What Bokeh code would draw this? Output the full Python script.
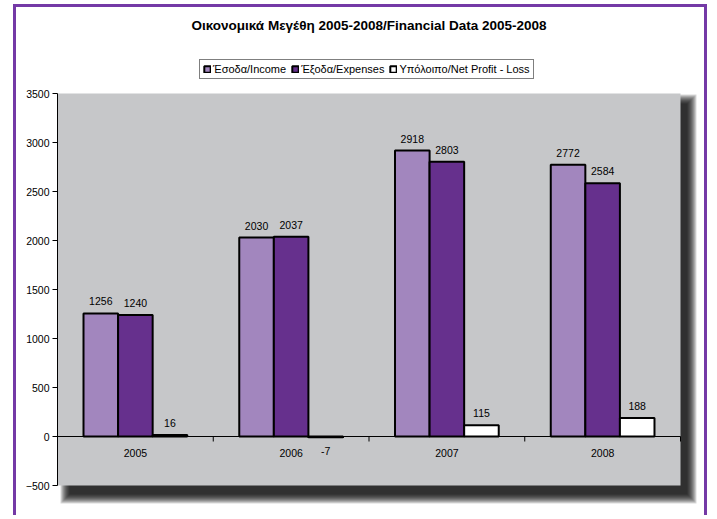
from bokeh.plotting import figure
from bokeh.models import ColumnDataSource, Range1d, FixedTicker, Label, Legend, LegendItem
from bokeh.core.properties import value
from bokeh.embed import file_html
from bokeh.resources import INLINE

# ---------------- data ----------------
years = ["2005", "2006", "2007", "2008"]
income = [1256, 2030, 2918, 2772]
expenses = [1240, 2037, 2803, 2584]
net = [16, -7, 115, 188]
series_names = ["Έσοδα/Income", "Έξοδα/Expenses", "Υπόλοιπο/Net Profit - Loss"]
y_ticks = [-500, 0, 500, 1000, 1500, 2000, 2500, 3000, 3500]
title_text = "Οικονομικά Μεγέθη 2005-2008/Financial Data 2005-2008"

# ---------------- style / layout ----------------
FONT = "Liberation Sans"
FS = "10.5px"
W, H = 694, 511
LEFT, RIGHT_B, TOP_PX = 41, 10, 86          # frame borders (px)
PLOT_W_PX = 623                             # grey area width
PLOT_H_PX = 392                             # grey area height
Y_MIN, Y_MAX = y_ticks[0], y_ticks[-1]
n = len(years)
PXX = PLOT_W_PX / n                         # px per category
PXY = PLOT_H_PX / (Y_MAX - Y_MIN)           # px per value unit
frame_w = W - LEFT - RIGHT_B
x_end = frame_w / PXX
y_end = Y_MAX + TOP_PX / PXY
y_start = y_end - H / PXY

GREY = "#C6C7C9"
C_INC, C_EXP, C_NET = "#A286BE", "#66308D", "#FFFFFF"
BORDER = "#7439A6"
BAR_W = 0.222

p = figure(width=W, height=H, x_range=Range1d(0, x_end), y_range=Range1d(y_start, y_end),
           output_backend="svg", toolbar_location=None, x_axis_location=None,
           min_border_left=LEFT, min_border_right=RIGHT_B, min_border_top=0, min_border_bottom=0)
p.styles = {"border": "3px solid " + BORDER, "border-bottom": "none",
            "margin-left": "13px", "margin-top": "4px"}
p.grid.visible = False
p.outline_line_color = None
p.background_fill_color = "white"
p.border_fill_color = "white"

# shadow
for k in range(10):
    p.quad(left=[12 / PXX - k / PXX], right=[n + 7 / PXX + k / PXX],
           top=[Y_MAX - 10 / PXY + k / PXY], bottom=[Y_MIN - 9 / PXY - k / PXY],
           fill_color="black", fill_alpha=0.15, line_color=None)
# grey plot area
p.quad(left=[0], right=[n], top=[Y_MAX], bottom=[Y_MIN], fill_color=GREY, line_color=None)

# bars
offsets = [-BAR_W, 0, BAR_W]
colors = [C_INC, C_EXP, C_NET]
renderers = []
for vals, off, col in zip([income, expenses, net], offsets, colors):
    src = ColumnDataSource(dict(x=[i + 0.5 + off for i in range(n)], top=vals))
    r = p.vbar(x="x", top="top", bottom=0, width=BAR_W, source=src,
               fill_color=col, line_color="black", line_width=2)
    renderers.append(r)

# zero line & category ticks
p.segment(x0=[0], x1=[n], y0=[0], y1=[0], line_color="black", line_width=1)
p.segment(x0=list(range(1, n + 1)), x1=list(range(1, n + 1)), y0=[0] * n,
          y1=[-5 / PXY] * n, line_color="black", line_width=1)

# category labels
p.text(x=[i + 0.5 for i in range(n)], y=[0] * n, text=years, y_offset=16,
       text_align="center", text_baseline="middle", text_font=value(FONT),
       text_font_size=FS, text_color="black")

# value labels
lx, ly, lt, lo = [], [], [], []
for vals, off in zip([income, expenses, net], offsets):
    for i, v in enumerate(vals):
        lx.append(i + 0.5 + off)
        ly.append(v)
        lt.append(str(v))
        lo.append(-12 if v >= 0 else 14)
p.text(x="x", y="y", text="t", y_offset="o",
       source=ColumnDataSource(dict(x=lx, y=ly, t=lt, o=lo)),
       text_align="center", text_baseline="middle", text_font=value(FONT),
       text_font_size=FS, text_color="black")

# y axis
ax = p.yaxis[0]
ax.ticker = FixedTicker(ticks=y_ticks)
ax.bounds = (Y_MIN, Y_MAX)
ax.major_tick_out = 5
ax.major_tick_in = 0
ax.minor_tick_out = 0
ax.minor_tick_in = 0
ax.axis_line_color = "black"
ax.major_tick_line_color = "black"
ax.major_label_text_font = FONT
ax.major_label_text_font_size = FS
ax.major_label_text_color = "black"
ax.major_label_standoff = 3

# title
p.add_layout(Label(x=n / 2, y=Y_MAX + (TOP_PX - 18) / PXY, text=title_text,
                   text_align="center", text_baseline="middle", text_font=FONT,
                   text_font_size="13.5px", text_font_style="bold", text_color="black"))

# legend
legend = Legend(items=[LegendItem(label=nm, renderers=[r]) for nm, r in zip(series_names, renderers)],
                orientation="horizontal", location=(142, 439))
legend.border_line_color = "black"
legend.border_line_width = 1
legend.background_fill_color = "white"
legend.background_fill_alpha = 1
legend.padding = 3
legend.spacing = 5
legend.margin = 0
legend.glyph_width = 8
legend.glyph_height = 8
legend.label_standoff = 2
legend.label_height = 9
legend.label_text_font = FONT
legend.label_text_font_size = "11px"
legend.label_text_color = "black"
p.add_layout(legend)

open("out.html", "w").write(file_html(p, INLINE))
